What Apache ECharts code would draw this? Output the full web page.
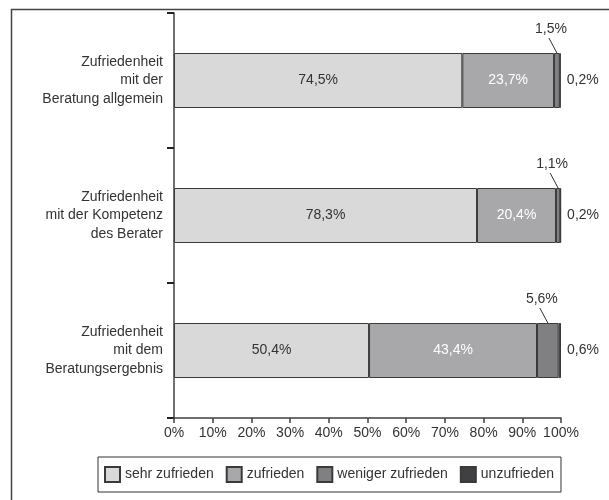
<!DOCTYPE html>
<html>
<head>
<meta charset="utf-8">
<script src="https://cdn.jsdelivr.net/npm/echarts@6/dist/echarts.min.js"></script>
<style>html,body{margin:0;padding:0;background:#fff}#c{width:609px;height:500px}</style>
</head>
<body>
<div id="c"></div>
<script>
const categories = [
  'Zufriedenheit\nmit der\nBeratung allgemein',
  'Zufriedenheit\nmit der Kompetenz\ndes Berater',
  'Zufriedenheit\nmit dem\nBeratungsergebnis'
];
const seriesNames = ['sehr zufrieden', 'zufrieden', 'weniger zufrieden', 'unzufrieden'];
const sehrZufrieden = [74.5, 78.3, 50.4];
const zufrieden = [23.7, 20.4, 43.4];
const wenigerZufrieden = [1.5, 1.1, 5.6];
const unzufrieden = [0.2, 0.2, 0.6];
const xTicks = [0, 10, 20, 30, 40, 50, 60, 70, 80, 90, 100];

const colors = ['#d9d9da', '#a8a8aa', '#808082', '#404042'];
const FONT = 'Liberation Sans, Arial, sans-serif';
const fmt = v => String(v).replace('.', ',') + '%';

const leaderData = wenigerZufrieden.map((v, i) => [sehrZufrieden[i] + zufrieden[i], v, i]);

function barSeries(name, data, idx, label) {
  return {
    name: name, type: 'bar', stack: 'total', data: data, barWidth: 55,
    itemStyle: { color: colors[idx], borderColor: '#3a3a3a', borderWidth: 1 },
    label: label, emphasis: { disabled: true }
  };
}

const chart = echarts.init(document.getElementById('c'), null, { renderer: 'canvas' });
chart.setOption({
  animation: false,
  textStyle: { fontFamily: FONT },
  graphic: [{
    type: 'rect', left: 9, top: 7, silent: true,
    shape: { width: 800, height: 700 },
    style: { fill: 'none', stroke: '#444', lineWidth: 1.5 }
  }],
  grid: { left: 174, right: 48, top: 13, bottom: 82 },
  xAxis: {
    type: 'value', min: 0, max: 100, interval: 10,
    axisLine: { show: true, lineStyle: { color: '#404040', width: 1.5 } },
    axisTick: { show: true, length: 5, lineStyle: { color: '#404040', width: 1.5 } },
    splitLine: { show: false },
    axisLabel: { formatter: v => xTicks.includes(v) ? v + '%' : '', color: '#333', fontSize: 14, margin: 8, fontFamily: FONT }
  },
  yAxis: {
    type: 'category', data: categories, inverse: true,
    axisLine: { show: true, lineStyle: { color: '#404040', width: 1.5 } },
    axisTick: { show: true, length: 7, lineStyle: { color: '#222', width: 2 } },
    axisLabel: { color: '#333', fontSize: 14, lineHeight: 18.5, margin: 11, align: 'right', fontFamily: FONT }
  },
  legend: {
    data: seriesNames, left: 98, top: 457,
    padding: [9, 7, 9, 6], itemGap: 12, itemWidth: 15, itemHeight: 15,
    borderColor: '#333', borderWidth: 1, icon: 'rect',
    textStyle: { fontSize: 14, color: '#333', fontFamily: FONT }, selectedMode: false
  },
  series: [
    barSeries(seriesNames[0], sehrZufrieden, 0, { show: true, position: 'inside', color: '#333', fontSize: 14, formatter: p => fmt(p.value) }),
    barSeries(seriesNames[1], zufrieden, 1, { show: true, position: 'inside', color: '#fff', fontSize: 14, formatter: p => fmt(p.value) }),
    barSeries(seriesNames[2], wenigerZufrieden, 2, { show: false }),
    barSeries(seriesNames[3], unzufrieden, 3, { show: true, position: 'right', distance: 6, color: '#333', fontSize: 14, formatter: p => fmt(p.value) }),
    {
      type: 'custom', name: 'leader', coordinateSystem: 'cartesian2d', silent: true, z: 5,
      data: leaderData,
      renderItem: function (params, api) {
        const start = api.value(0), val = api.value(1), cat = api.value(2);
        const c = api.coord([start + val / 2, cat]);
        const yTop = c[1] - 27.5;
        return {
          type: 'group',
          children: [
            { type: 'line', shape: { x1: c[0] - 8, y1: yTop - 15, x2: c[0], y2: yTop }, style: { stroke: '#333', lineWidth: 1 } },
            { type: 'text', style: { x: c[0] - 6, y: yTop - 24, text: fmt(val), fill: '#333', font: '14px ' + FONT, align: 'center', verticalAlign: 'middle' } }
          ]
        };
      }
    }
  ]
});
</script>
</body>
</html>
